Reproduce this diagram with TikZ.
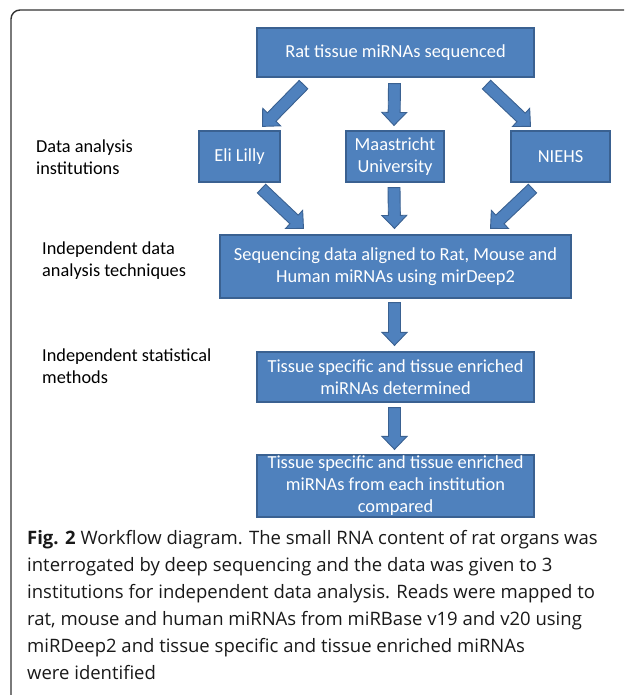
\documentclass[tikz,border=0pt]{standalone}
\usepackage{fontspec}
\setmainfont{Carlito}
\newfontfamily\capfont{Open Sans}
\usetikzlibrary{calc}
\definecolor{boxblue}{HTML}{4F81BD}
\definecolor{boxline}{HTML}{3A6191}
\definecolor{framegray}{HTML}{333333}

\begin{document}
\begin{tikzpicture}[x=1pt,y=-1pt,
    box/.style={draw=boxline,fill=boxblue,line width=1.2pt,text=white,inner sep=0pt,
      align=center,font=\fontsize{18.4}{22}\selectfont},
    sidetext/.style={anchor=west,align=left,inner sep=0pt,font=\fontsize{18.3}{22}\selectfont},
    captext/.style={anchor=north west,align=left,inner sep=0pt,text=black!90,
      font=\capfont\fontsize{18.5}{27}\selectfont},
    flow/.style={draw=boxline,fill=boxblue,line width=0.9pt,
      to path={let \p1=($(\tikztotarget)-(\tikztostart)$),
        \n1={atan2(\y1,\x1)}, \n2={veclen(\x1,\y1)-13pt} in
        ($(\tikztostart)+({\n1+90}:6pt)$)
        -- ($(\tikztostart)+(\n1:\n2)+({\n1+90}:6pt)$)
        -- ($(\tikztostart)+(\n1:\n2)+({\n1+90}:12.5pt)$)
        -- (\tikztotarget)
        -- ($(\tikztostart)+(\n1:\n2)+({\n1-90}:12.5pt)$)
        -- ($(\tikztostart)+(\n1:\n2)+({\n1-90}:6pt)$)
        -- ($(\tikztostart)+({\n1-90}:6pt)$) -- cycle}}]
\useasboundingbox (0,0) rectangle (624,695);
\clip (0,0) rectangle (624,695);
\draw[framegray,line width=1.4pt,rounded corners=9pt] (11,10) rectangle (690,712);

% boxes
\node[box,minimum width=277pt,minimum height=49pt] (seqd) at (395.5,52.5) {Rat tissue miRNAs sequenced};
\node[box,minimum width=81pt,minimum height=51pt] (lilly) at (239.5,156.5) {Eli Lilly};
\node[box,minimum width=98pt,minimum height=51pt] (maas) at (395,156.5) {Maastricht\\University};
\node[box,minimum width=99pt,minimum height=51pt] (niehs) at (560.5,156.5) {NIEHS};
\node[box,minimum width=351pt,minimum height=63pt] (align) at (395.5,266.5) {Sequencing data aligned to Rat, Mouse and\\Human miRNAs using mirDeep2};
\node[box,minimum width=277pt,minimum height=50pt] (det) at (395.5,377) {Tissue specific and tissue enriched\\miRNAs determined};
\node[box,minimum width=277pt,minimum height=62pt] (comp) at (395.5,486) {Tissue specific and tissue enriched\\miRNAs from each institution\\compared};

% side texts
\node[sidetext] (inst) at (36,157.5) {Data analysis\\institutions};
\node[sidetext] (tech) at (42,261) {Independent data\\analysis techniques};
\node[sidetext] (stat) at (42,366) {Independent statistical\\methods};

% arrows
\draw[flow] ([shift={(-92,7)}]seqd.south) to ([shift={(23,-4)}]lilly.north);
\draw[flow] ([shift={(-1,6)}]seqd.south) to ([shift={(-1,-5)}]maas.north);
\draw[flow] ([shift={(91,7)}]seqd.south) to ([shift={(-30,-4)}]niehs.north);
\draw[flow] ([shift={(22,6)}]lilly.south) to ([shift={(-92,-6)}]align.north);
\draw[flow] ([shift={(-1,5)}]maas.south) to ([shift={(-1,-6)}]align.north);
\draw[flow] ([shift={(-28,6)}]niehs.south) to ([shift={(95,-6)}]align.north);
\draw[flow] ([shift={(-1,4)}]align.south) to ([shift={(-1,-6)}]det.north);
\draw[flow] ([shift={(-1,5)}]det.south) to ([shift={(-1,-5)}]comp.north);

% caption
\node[captext] (cap) at (27,530.5) {{\bfseries Fig. 2} Workflow diagram. The small RNA content of rat organs was\\
interrogated by deep sequencing and the data was given to 3\\
institutions for independent data analysis. Reads were mapped to\\
rat, mouse and human miRNAs from miRBase v19 and v20 using\\
miRDeep2 and tissue specific and tissue enriched miRNAs\\
were identified};
\end{tikzpicture}
\end{document}
